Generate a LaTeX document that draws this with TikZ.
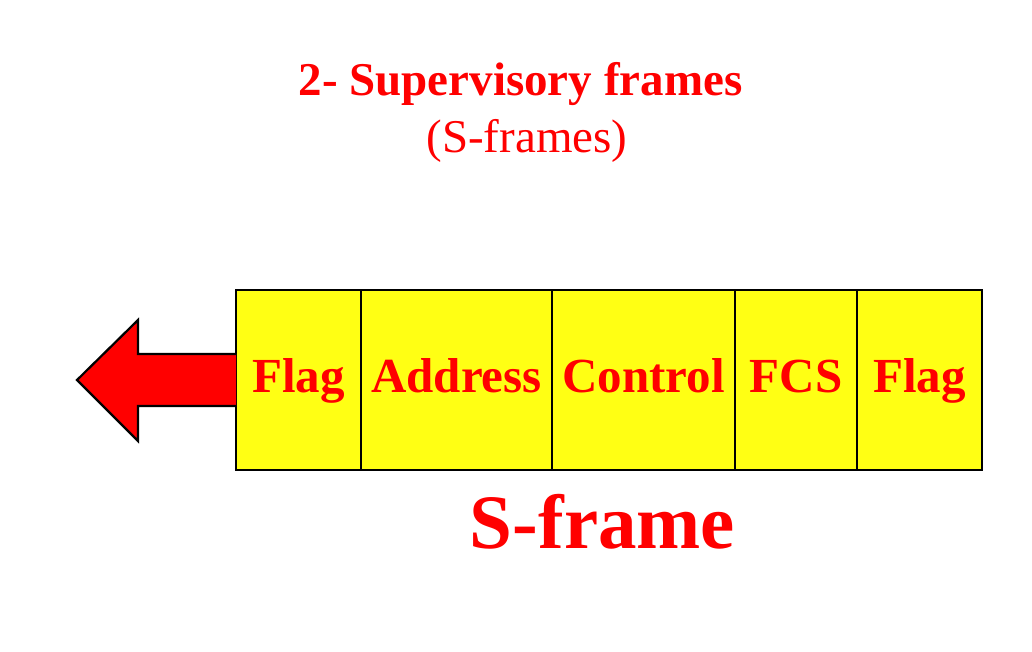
\documentclass[tikz,border=0pt]{standalone}
\usepackage{fontspec}
\setmainfont{Liberation Serif}
\usetikzlibrary{calc}
\definecolor{fred}{RGB}{255,0,0}
\definecolor{fyellow}{RGB}{255,255,20}
\begin{document}
\begin{tikzpicture}[x=1pt,y=-1pt,
  field/.style={draw=black,line width=2.2pt,fill=fyellow,text=fred,
    font=\fontsize{49}{56}\selectfont\bfseries,
    minimum height=180pt,inner sep=0pt,outer sep=0pt,
    text height=34pt,text depth=10pt},
  titletext/.style={text=fred,anchor=base,inner sep=0pt}]
\useasboundingbox (0,0) rectangle (1032,651);
\node[titletext,font=\fontsize{47}{54}\selectfont\bfseries] (title) at (520.5,95) {2- Supervisory frames};
\node[titletext,font=\fontsize{47}{54}\selectfont] (subtitle) at (527,152) {(S-frames)};
\node[field,minimum width=125pt] (f1) at (298.5,380) {Flag};
\node[field,minimum width=191pt] (addr) at (456.5,380) {Address};
\node[field,minimum width=183pt] (ctrl) at (643.5,380) {Control};
\node[field,minimum width=122pt] (fcs) at (796,380) {FCS};
\node[field,minimum width=125pt] (f2) at (919.5,380) {Flag};
\draw[fill=fred,line width=2.2pt,line join=miter]
  ($(f1.west)+(0,-26)$) -- (138,354) -- (138,320) -- (77,380) -- (138,441)
  -- (138,406) -- ($(f1.west)+(0,26)$);
\node[titletext,font=\fontsize{77}{84}\selectfont\bfseries] (sframe) at (602.5,548) {S-frame};
\end{tikzpicture}
\end{document}
